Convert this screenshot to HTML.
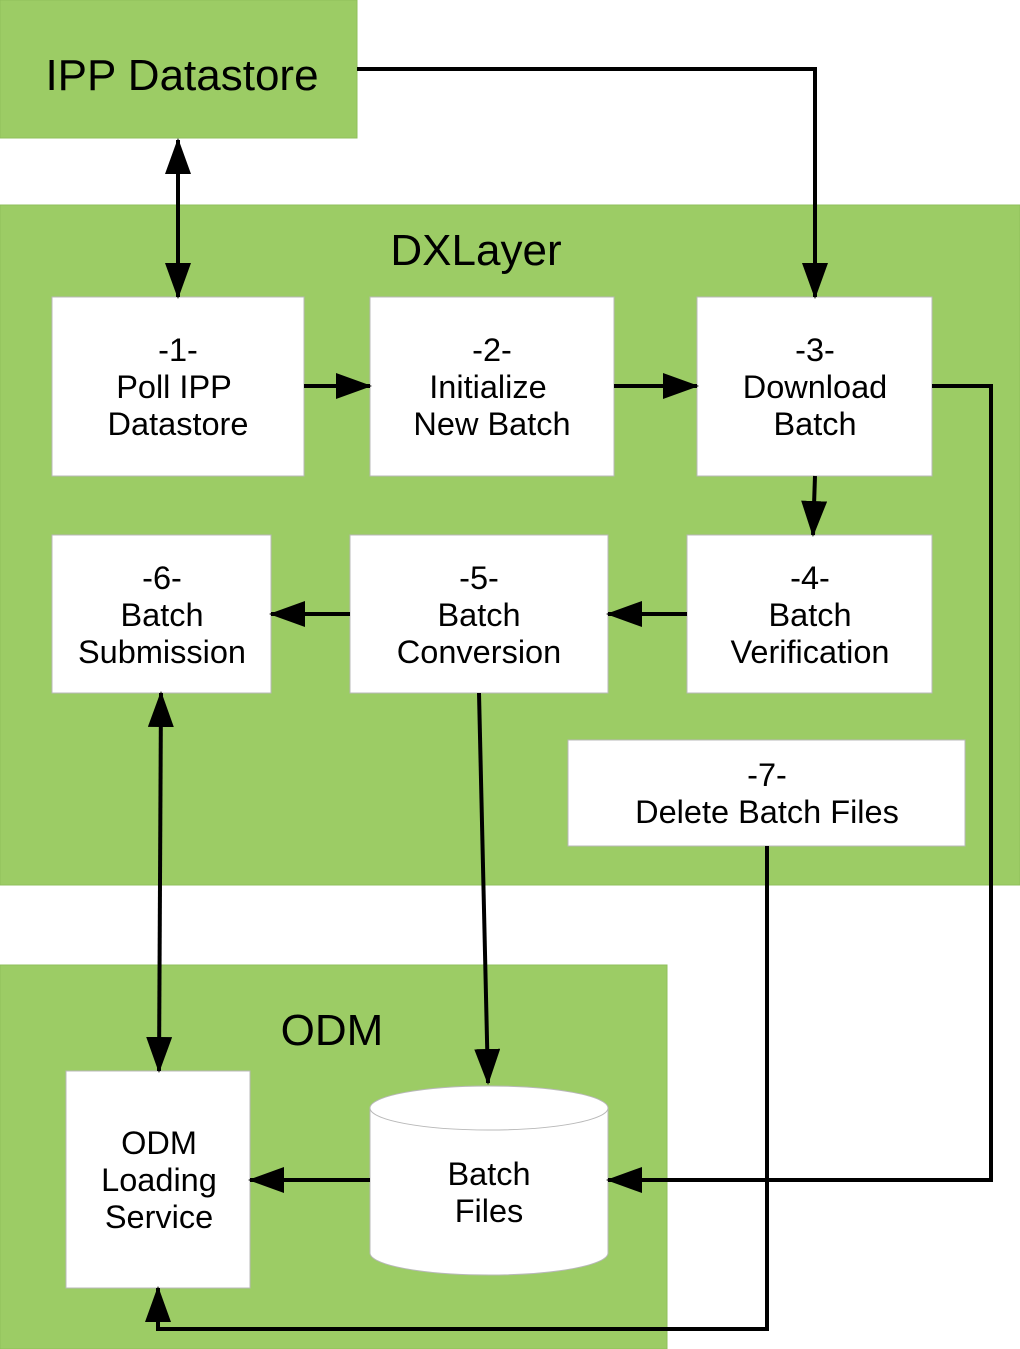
<!DOCTYPE html>
<html><head><meta charset="utf-8"><style>html,body{margin:0;padding:0;background:#fff}svg{display:block}</style></head>
<body>
<svg width="1020" height="1349" viewBox="0 0 1020 1349" xmlns="http://www.w3.org/2000/svg" font-family="Liberation Sans, sans-serif">
<style>
.g{fill:#9ccc65;stroke:#8fbf5c;stroke-width:1}
.w{fill:#fff;stroke:#b8b8b8;stroke-width:1}
.t{font-size:32.5px;text-anchor:middle;fill:#000}
.h{font-size:44px;text-anchor:middle;fill:#000}
.l{stroke:#000;stroke-width:4;fill:none}
</style>
<marker id="b" markerWidth="36" markerHeight="26" refX="34" refY="13" orient="auto-start-reverse" markerUnits="userSpaceOnUse"><path d="M0,0 L36,13 L0,26 z" fill="#000"/></marker>

<rect class="g" x="0" y="0" width="357" height="138"/>
<text class="h" x="182" y="90">IPP Datastore</text>

<rect class="g" x="0" y="205" width="1020" height="680"/>
<text class="h" x="476" y="265">DXLayer</text>

<rect class="g" x="0" y="965" width="667" height="384"/>
<text class="h" x="332" y="1045">ODM</text>

<rect class="w" x="52" y="297" width="252" height="179"/>
<text class="t" x="178" y="361">-1-</text><text class="t" x="174" y="398">Poll IPP</text><text class="t" x="178" y="435">Datastore</text>

<rect class="w" x="370" y="297" width="244" height="179"/>
<text class="t" x="492" y="361">-2-</text><text class="t" x="488" y="398">Initialize</text><text class="t" x="492" y="435">New Batch</text>

<rect class="w" x="697" y="297" width="235" height="179"/>
<text class="t" x="815" y="361">-3-</text><text class="t" x="815" y="398">Download</text><text class="t" x="815" y="435">Batch</text>

<rect class="w" x="52" y="535" width="219" height="158"/>
<text class="t" x="162" y="589">-6-</text><text class="t" x="162" y="626">Batch</text><text class="t" x="162" y="663">Submission</text>

<rect class="w" x="350" y="535" width="258" height="158"/>
<text class="t" x="479" y="589">-5-</text><text class="t" x="479" y="626">Batch</text><text class="t" x="479" y="663">Conversion</text>

<rect class="w" x="687" y="535" width="245" height="158"/>
<text class="t" x="810" y="589">-4-</text><text class="t" x="810" y="626">Batch</text><text class="t" x="810" y="663">Verification</text>

<rect class="w" x="568" y="740" width="397" height="106"/>
<text class="t" x="767" y="786">-7-</text><text class="t" x="767" y="823">Delete Batch Files</text>

<rect class="w" x="66" y="1071" width="184" height="217"/>
<text class="t" x="159" y="1154">ODM</text><text class="t" x="159" y="1191">Loading</text><text class="t" x="159" y="1228">Service</text>

<path d="M370,1108 L370,1253 A119,22 0 0 0 608,1253 L608,1108" fill="#fff" stroke="#b8b8b8"/>
<ellipse cx="489" cy="1108" rx="119" ry="22" fill="#fff" stroke="#b8b8b8"/>
<text class="t" x="489" y="1185">Batch</text><text class="t" x="489" y="1222">Files</text>

<path class="l" d="M357,69 L815,69 L815,297" marker-end="url(#b)"/>
<path class="l" d="M178,140 L178,297" marker-start="url(#b)" marker-end="url(#b)"/>
<path class="l" d="M304,386 L370,386" marker-end="url(#b)"/>
<path class="l" d="M614,386 L697,386" marker-end="url(#b)"/>
<path class="l" d="M815,476 L813,535" marker-end="url(#b)"/>
<path class="l" d="M687,614 L608,614" marker-end="url(#b)"/>
<path class="l" d="M350,614 L271,614" marker-end="url(#b)"/>
<path class="l" d="M161,693 L159,1071" marker-start="url(#b)" marker-end="url(#b)"/>
<path class="l" d="M479,693 L488,1083" marker-end="url(#b)"/>
<path class="l" d="M932,386 L991,386 L991,1180 L608,1180" marker-end="url(#b)"/>
<path class="l" d="M370,1180 L250,1180" marker-end="url(#b)"/>
<path class="l" d="M767,846 L767,1329 L158,1329 L158,1288" marker-end="url(#b)"/>
</svg>
</body></html>
